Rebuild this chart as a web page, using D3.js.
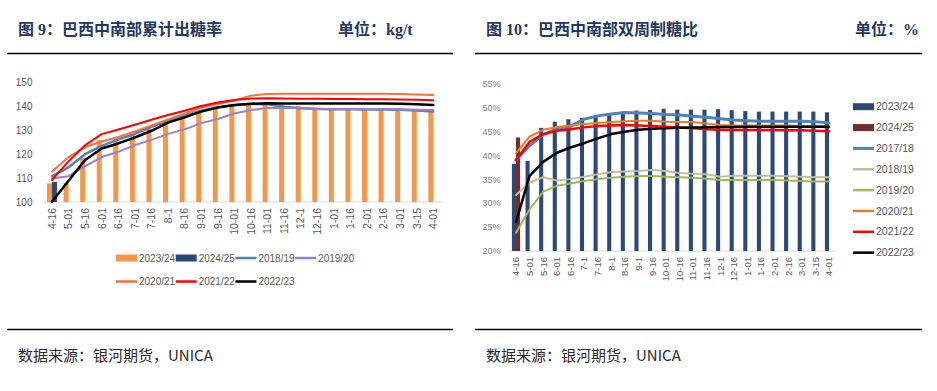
<!DOCTYPE html>
<html><head><meta charset="utf-8">
<script src="https://cdn.jsdelivr.net/npm/d3@7"></script>
<style>
html,body{margin:0;padding:0;background:#fff;}
svg{display:block;}
</style></head>
<body>
<svg id="c" width="937" height="391"></svg>
<script>
// ---------- data: left chart (cumulative ATR, kg/t) ----------
const catsLeft = ["4-16","5-01","5-16","6-01","6-16","7-01","7-16","8-1","8-16","9-01","9-16","10-01","10-16","11-01","11-16","12-1","12-16","1-01","1-16","2-01","2-16","3-01","3-15","4-01"];
const leftTicks = [100,110,120,130,140,150];
const atr2324 = [107.8,108,118.5,126,126.5,128,130.5,133.5,135.5,137.5,139,140.5,140.6,141.2,140.6,140.2,139.2,139.2,139.2,139.2,139.2,139.1,139,138.8];
const atr2425 = [108.4];
const atr1819 = [110.8,114.5,120,123.5,126.2,128.5,131.4,134,136.2,138.2,139.8,140.5,141,140.9,139.9,139.2,138.9,138.8,138.8,138.7,138.7,138.6,138.3,137.9];
const atr1920 = [109.8,110.8,115,118.8,121,123.8,126,128.5,130.4,133,134.7,137,138.5,139.3,139.4,139.2,139,138.9,138.9,138.9,138.9,138.8,138.6,138.5];
const atr2021 = [112.7,118.8,123,125.3,127.2,129.5,132,134.5,137,139.5,141,142.5,144.5,145.2,145.3,145.3,145.3,145.3,145.3,145.3,145.3,145.2,145,144.8];
const atr2122 = [109.2,117,123.8,128.4,130.3,132.3,134.4,136.4,138.2,140.2,141.6,142.7,143.3,143.4,143.3,143.2,143.2,143.1,143.1,143,143,142.9,142.8,142.6];
const atr2223 = [100.1,108.9,117.6,122.4,124.5,127,129.8,133.2,135.4,137.8,139.5,140.6,141.1,141.3,141.2,141.2,141.2,141.2,141.2,141.2,141.2,141.1,140.9,140.6];

// ---------- data: right chart (bi-weekly sugar mix, %) ----------
const catsRight = ["4-16","5-01","5-16","6-01","6-16","7-1","7-16","8-1","8-16","9-1","9-16","10-01","10-16","11-01","11-16","12-1","12-16","1-01","1-16","2-01","2-16","3-01","3-15","4-01"];
const rightTicks = [20,25,30,35,40,45,50,55];
const sr2324 = [38.2,38.8,45.7,47,47.5,47.8,48,48.5,49.1,49.3,49.4,49.7,49.5,49.5,49.5,49.6,49.4,49.2,49.1,49.1,49.1,49.1,49.1,48.95];
const sr2425 = [43.7];
const sr1718 = [39,42,44.3,45.5,46,47.5,48.2,48.6,48.9,48.8,48.7,48.5,48.4,48.1,47.9,47.6,47.35,47.2,47.1,47.1,47.1,47.1,47.0,46.7];
const sr1819 = [31.7,34.3,35.4,34.7,35.0,35.5,36.0,36.5,36.6,36.7,36.9,36.7,36.3,36.1,36.0,35.5,35.7,35.7,35.7,35.7,35.6,35.5,35.4,35.4];
const sr1920 = [23.8,28.7,32.4,33.6,34.1,34.6,35.0,35.3,35.5,35.65,35.65,35.5,35.4,35.3,35.1,34.8,34.8,34.8,34.8,34.8,34.7,34.6,34.5,34.5];
const sr2021 = [40.4,43.9,45.3,45.9,46.2,46.5,46.7,46.9,47.1,47.2,47.2,47.0,46.9,46.9,46.6,46.3,46.2,46.2,46.2,46.2,46.2,46.1,46.1,46.0];
const sr2122 = [39,42.8,44.4,45.1,45.4,45.8,46.1,46.2,46.3,46.2,46.1,45.95,45.75,45.6,45.4,45.3,45.25,45.25,45.25,45.25,45.2,45.2,45.1,45.0];
const sr2223 = [26.1,35.7,38.6,40.5,41.6,42.5,43.5,44.4,44.9,45.3,45.5,45.6,45.7,45.8,45.85,45.9,45.9,45.95,45.95,45.95,45.95,45.95,45.95,45.95];

const svg = d3.select("#c");
const titleFont = "'Liberation Serif','Noto Sans CJK SC',serif";
const cjkFont = "'Noto Sans CJK SC',sans-serif";
const labFont = "'Liberation Sans',Arial,sans-serif";
const grey = "#595959";

// ---------- frame: titles, rules, source ----------
function frame(x0, x1, title, unit, unitX) {
  svg.append("text").attr("x", x0 + 11).attr("y", 35).text(title)
    .attr("font-family", titleFont).attr("font-weight", 700).attr("font-size", 16).attr("fill", "#1f3864");
  svg.append("text").attr("x", unitX).attr("y", 35).text(unit)
    .attr("font-family", titleFont).attr("font-weight", 700).attr("font-size", 16).attr("fill", "#1f3864");
  svg.append("line").attr("x1", x0).attr("x2", x1).attr("y1", 53.5).attr("y2", 53.5)
    .attr("stroke", "#000").attr("stroke-width", 1.5);
  svg.append("line").attr("x1", x0).attr("x2", x1).attr("y1", 329.5).attr("y2", 329.5)
    .attr("stroke", "#000").attr("stroke-width", 1.5);
  svg.append("text").attr("x", x0 + 11).attr("y", 361).text("数据来源：银河期货，UNICA")
    .attr("font-family", cjkFont).attr("font-size", 15).attr("fill", "#2a2a2a");
}
frame(7, 453, "图 9：巴西中南部累计出糖率", "单位：kg/t", 338);
frame(475, 922, "图 10：巴西中南部双周制糖比", "单位：%", 855);

// ---------- generic chart ----------
function chart(cfg) {
  const g = svg.append("g");
  const x = d3.scaleBand().domain(cfg.cats).range(cfg.xr);
  const y = d3.scaleLinear().domain(cfg.yd).range(cfg.yr);
  const bw = x.bandwidth() * cfg.barFrac;

  // y tick labels
  const yAxis = d3.axisLeft(y).tickValues(cfg.ticks).tickSize(0).tickPadding(0).tickFormat(cfg.fmt);
  const ya = g.append("g").attr("transform", `translate(${cfg.yLabX},0)`).call(yAxis);
  ya.select(".domain").remove();
  ya.selectAll("text").attr("font-family", labFont).attr("font-size", cfg.yFs).attr("fill", cfg.yCol);

  // baseline
  g.append("line").attr("x1", cfg.xr[0]).attr("x2", cfg.xr[1]).attr("y1", cfg.yr[0]).attr("y2", cfg.yr[0])
    .attr("stroke", "#d9d9d9").attr("stroke-width", 1.2);

  // bars (two per group)
  cfg.bars.forEach((b, bi) => {
    g.append("g").selectAll("rect").data(b.data).join("rect")
      .attr("x", (d, i) => x(cfg.cats[i]) + x.bandwidth() / 2 - bw + bi * bw)
      .attr("width", bw)
      .attr("y", d => y(d))
      .attr("height", d => y(cfg.yd[0]) - y(d))
      .attr("fill", b.color);
  });

  // lines
  cfg.lines.forEach(l => {
    const line = d3.line().x((d, i) => x(cfg.cats[i]) + x.bandwidth() / 2).y(d => y(d));
    g.append("path").datum(l.data).attr("d", line).attr("fill", "none")
      .attr("stroke", l.color).attr("stroke-width", l.w).attr("stroke-linejoin", "round").attr("stroke-linecap", "round");
  });

  // x labels, rotated
  const xAxis = d3.axisBottom(x).tickSize(0).tickPadding(0);
  const xa = g.append("g").attr("transform", `translate(0,${cfg.xLabY})`).call(xAxis);
  xa.select(".domain").remove();
  xa.selectAll("text")
    .attr("font-family", labFont).attr("font-size", cfg.xFs).attr("fill", grey)
    .attr("text-anchor", "end").attr("dy", null).attr("y", 0)
    .attr("transform", `translate(${cfg.xFs * 0.36},0) rotate(-90)`);
  return {x, y};
}

const L = chart({
  cats: catsLeft, xr: [43.7, 441.6], yd: [100, 150], yr: [202, 82.5],
  ticks: leftTicks, fmt: d => d, yLabX: 32.5, yFs: 10, yCol: grey,
  xLabY: 208, xFs: 10.5, barFrac: 0.3,
  bars: [{data: atr2324, color: "#f79646"}, {data: atr2425, color: "#2b4a7b"}],
  lines: [
    {data: atr1819, color: "#4f81bd", w: 2.5},
    {data: atr1920, color: "#a07fc9", w: 2},
    {data: atr2021, color: "#f3713a", w: 2},
    {data: atr2122, color: "#ff0000", w: 2},
    {data: atr2223, color: "#000000", w: 2.5}
  ]
});

const R = chart({
  cats: catsRight, xr: [509.2, 835.8], yd: [20, 55], yr: [251, 83.3],
  ticks: rightTicks, fmt: d => d + "%", yLabX: 500.5, yFs: 9, yCol: "#7f7f7f",
  xLabY: 257, xFs: 9.5, barFrac: 0.3,
  bars: [{data: sr2324, color: "#2b4a7b"}, {data: sr2425, color: "#7b2a2a"}],
  lines: [
    {data: sr1718, color: "#4f81bd", w: 3},
    {data: sr1819, color: "#c4bd97", w: 2},
    {data: sr1920, color: "#9bbb59", w: 2},
    {data: sr2021, color: "#ee7d1e", w: 2},
    {data: sr2122, color: "#ff0000", w: 2.5},
    {data: sr2223, color: "#000000", w: 2.5}
  ]
});

// ---------- legends ----------
function legendItem(x0, y0, name, color, type, fs) {
  if (type === "rect") {
    svg.append("rect").attr("x", x0).attr("y", y0 - 3.5).attr("width", 21).attr("height", 7).attr("fill", color);
  } else {
    svg.append("line").attr("x1", x0).attr("x2", x0 + 21).attr("y1", y0).attr("y2", y0)
      .attr("stroke", color).attr("stroke-width", type === "thick" ? 3 : 2.5);
  }
  svg.append("text").attr("x", x0 + 23).attr("y", y0).attr("dy", "0.35em").text(name)
    .attr("font-family", labFont).attr("font-size", fs).attr("fill", grey);
}
const legLeftNames = ["2023/24","2024/25","2018/19","2019/20","2020/21","2021/22","2022/23"];
const legLeftColors = ["#f79646","#2b4a7b","#4f81bd","#a07fc9","#f3713a","#ff0000","#000000"];
const legLeftTypes = ["rect","rect","line","line","line","line","line"];
legLeftNames.forEach((n, i) => {
  const col = i < 4 ? i : i - 4;
  const row = i < 4 ? 0 : 1;
  legendItem(116 + col * 59.7, 258 + row * 23.5, n, legLeftColors[i], legLeftTypes[i], 10);
});

const legRightNames = ["2023/24","2024/25","2017/18","2018/19","2019/20","2020/21","2021/22","2022/23"];
const legRightColors = ["#2b4a7b","#7b2a2a","#4f81bd","#c4bd97","#9bbb59","#ee7d1e","#ff0000","#000000"];
const legRightTypes = ["rect","rect","thick","line","line","line","line","line"];
legRightNames.forEach((n, i) => {
  legendItem(853, 106.7 + i * 20.85, n, legRightColors[i], legRightTypes[i], 10.5);
});
</script>
</body></html>
